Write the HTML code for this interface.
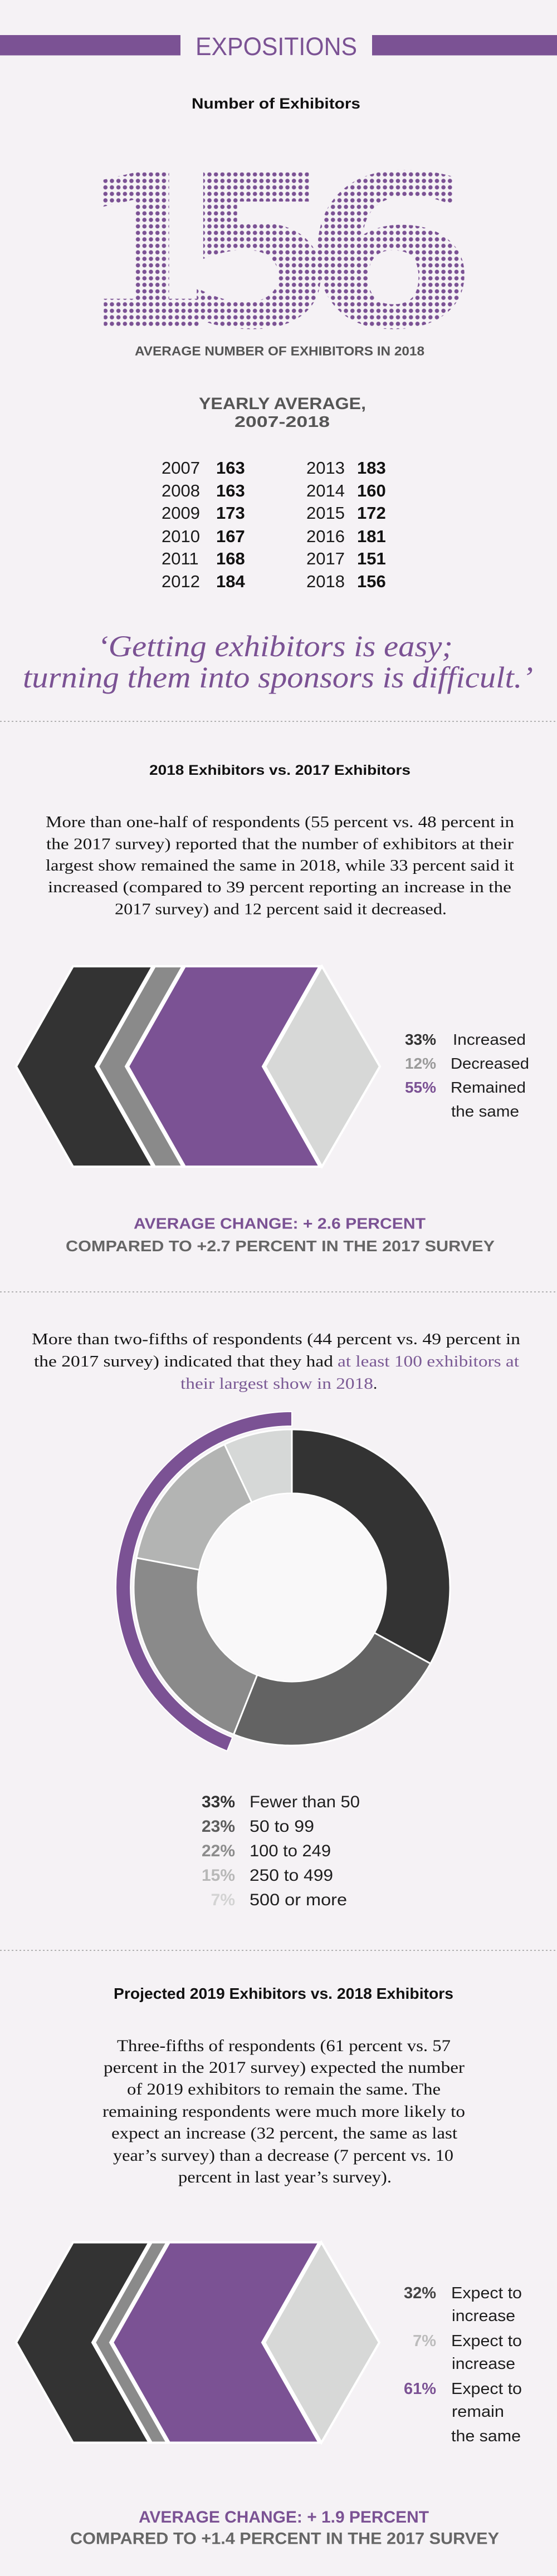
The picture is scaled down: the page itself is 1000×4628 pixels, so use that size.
<!DOCTYPE html>
<html><head><meta charset="utf-8"><style>
html,body{margin:0;padding:0;background:#f5f2f5;}
svg{display:block;}
.s{font-family:"Liberation Sans",sans-serif;}
.n{font-family:"Liberation Sans Narrow","Liberation Sans",sans-serif;}
.f{font-family:"Liberation Serif",serif;}
</style></head><body>
<svg width="1000" height="4628" viewBox="0 0 1000 4628" xmlns="http://www.w3.org/2000/svg">
<defs>
<pattern id="dots" patternUnits="userSpaceOnUse" x="183.47" y="307.47" width="11.67" height="11.67">
<circle cx="5.835" cy="5.835" r="3.8" fill="#7b5294"/>
</pattern>
<clipPath id="c156">
<text font-family="DejaVu Sans" font-weight="bold" font-size="379" text-anchor="middle" transform="translate(265,586) scale(0.9,1)">1</text>
<text font-family="DejaVu Sans" font-weight="bold" font-size="379" text-anchor="middle" transform="translate(463,586) scale(1.07,1)">5</text>
<text font-family="DejaVu Sans" font-weight="bold" font-size="379" text-anchor="middle" transform="translate(700,586) scale(1.2,1)">6</text>
</clipPath>
</defs>
<rect width="1000" height="4628" fill="#f5f2f5"/>

<!-- header -->
<rect x="0" y="63" width="324" height="36.5" fill="#7b5294"/>
<rect x="668" y="63" width="332" height="36.5" fill="#7b5294"/>
<text class="s" x="351" y="99" font-size="45" textLength="290" lengthAdjust="spacingAndGlyphs" fill="#7b5294">EXPOSITIONS</text>

<text class="n" x="344" y="195" font-size="27" font-weight="bold" textLength="303" lengthAdjust="spacingAndGlyphs" fill="#111">Number of Exhibitors</text>

<rect x="175" y="300" width="660" height="300" fill="url(#dots)" clip-path="url(#c156)"/>

<text class="n" x="242" y="638.5" font-size="23" font-weight="bold" textLength="520" lengthAdjust="spacingAndGlyphs" fill="#555">AVERAGE NUMBER OF EXHIBITORS IN 2018</text>

<text class="n" x="357" y="735" font-size="30" font-weight="bold" textLength="300" lengthAdjust="spacingAndGlyphs" fill="#555">YEARLY AVERAGE,</text>
<text class="n" x="421" y="767" font-size="28" font-weight="bold" textLength="171" lengthAdjust="spacingAndGlyphs" fill="#555">2007-2018</text>

<!-- table -->
<g class="s" font-size="31" fill="#1a1a1a">
<text x="290" y="851">2007</text><text x="290" y="892">2008</text><text x="290" y="932">2009</text>
<text x="290" y="974">2010</text><text x="290" y="1014">2011</text><text x="290" y="1055">2012</text>
<text x="550" y="851">2013</text><text x="550" y="892">2014</text><text x="550" y="932">2015</text>
<text x="550" y="974">2016</text><text x="550" y="1014">2017</text><text x="550" y="1055">2018</text>
</g>
<g class="s" font-size="31" font-weight="bold" fill="#111">
<text x="388" y="851">163</text><text x="388" y="892">163</text><text x="388" y="932">173</text>
<text x="388" y="974">167</text><text x="388" y="1014">168</text><text x="388" y="1055">184</text>
<text x="641" y="851">183</text><text x="641" y="892">160</text><text x="641" y="932">172</text>
<text x="641" y="974">181</text><text x="641" y="1014">151</text><text x="641" y="1055">156</text>
</g>

<!-- quote -->
<text class="f" x="175" y="1179" font-size="54" font-style="italic" textLength="638" lengthAdjust="spacingAndGlyphs" fill="#7b5294">‘Getting exhibitors is easy;</text>
<text class="f" x="41" y="1235" font-size="54" font-style="italic" textLength="916" lengthAdjust="spacingAndGlyphs" fill="#7b5294">turning them into sponsors is difficult.’</text>

<line x1="0" y1="1296" x2="1000" y2="1296" stroke="#9b9b9b" stroke-width="1.5" stroke-dasharray="3 4"/>

<!-- section 2 -->
<text class="n" x="268" y="1392" font-size="25" font-weight="bold" textLength="469" lengthAdjust="spacingAndGlyphs" fill="#111">2018 Exhibitors vs. 2017 Exhibitors</text>
<g class="f" font-size="29" fill="#151515">
<text x="82" y="1486" textLength="841" lengthAdjust="spacingAndGlyphs">More than one-half of respondents (55 percent vs. 48 percent in</text>
<text x="83" y="1525.5" textLength="839" lengthAdjust="spacingAndGlyphs">the 2017 survey) reported that the number of exhibitors at their</text>
<text x="82" y="1564" textLength="841" lengthAdjust="spacingAndGlyphs">largest show remained the same in 2018, while 33 percent said it</text>
<text x="86" y="1603" textLength="832" lengthAdjust="spacingAndGlyphs">increased (compared to 39 percent reporting an increase in the</text>
<text x="206" y="1642.5" textLength="596" lengthAdjust="spacingAndGlyphs">2017 survey) and 12 percent said it decreased.</text>
</g>

<!-- chevron 1 -->
<g stroke="#ffffff" stroke-width="4" stroke-linejoin="miter">
<polygon points="131,1736 274,1736 172,1916 274,2096 131,2096 29,1916" fill="#333333"/>
<polygon points="278,1736 328,1736 226,1916 328,2096 278,2096 176,1916" fill="#8a8a8a"/>
<polygon points="332,1736 574,1736 472,1916 574,2096 332,2096 230,1916" fill="#7b5294"/>
<polygon points="578,1736 682,1916 578,2096 476,1916" fill="#d7d8d7"/>
</g>
<g class="n" font-size="28" font-weight="bold" text-anchor="end">
<text x="783" y="1877" fill="#333">33%</text>
<text x="783" y="1920" fill="#9a9a9a">12%</text>
<text x="783" y="1963" fill="#7b5294">55%</text>
</g>
<g class="n" font-size="28" fill="#1e1e1e">
<text x="813" y="1877" textLength="131" lengthAdjust="spacingAndGlyphs">Increased</text>
<text x="809" y="1920" textLength="141" lengthAdjust="spacingAndGlyphs">Decreased</text>
<text x="809" y="1963" textLength="135" lengthAdjust="spacingAndGlyphs">Remained</text>
<text x="810" y="2006" textLength="122" lengthAdjust="spacingAndGlyphs">the same</text>
</g>

<text class="n" x="240" y="2207.6" font-size="28" font-weight="bold" textLength="524" lengthAdjust="spacingAndGlyphs" fill="#7b5294">AVERAGE CHANGE: + 2.6 PERCENT</text>
<text class="n" x="118" y="2248" font-size="28" font-weight="bold" textLength="770" lengthAdjust="spacingAndGlyphs" fill="#666">COMPARED TO +2.7 PERCENT IN THE 2017 SURVEY</text>

<line x1="0" y1="2321" x2="1000" y2="2321" stroke="#9b9b9b" stroke-width="1.5" stroke-dasharray="3 4"/>

<!-- section 3 -->
<g class="f" font-size="29">
<text x="57" y="2415" textLength="877" lengthAdjust="spacingAndGlyphs" fill="#151515">More than two-fifths of respondents (44 percent vs. 49 percent in</text>
<text x="61" y="2455" textLength="537" lengthAdjust="spacingAndGlyphs" fill="#151515">the 2017 survey) indicated that they had</text>
<text x="606" y="2455" textLength="326" lengthAdjust="spacingAndGlyphs" fill="#7b5a95">at least 100 exhibitors at</text>
<text x="324" y="2495" textLength="346" lengthAdjust="spacingAndGlyphs" fill="#7b5a95">their largest show in 2018</text>
<text x="670" y="2495" fill="#151515">.</text>
</g>

<!-- donut -->
<path d="M407.7 3145.8 A316 316 0 0 1 524 2536 L524 2562 A290 290 0 0 0 417.3 3121.6 Z" fill="#7b5294" stroke="#ffffff" stroke-width="2"/>
<g stroke="#ffffff" stroke-width="3" stroke-linejoin="round">
<path d="M524 2568 A284 284 0 0 1 772.9 2988.8 L672.1 2933.4 A169 169 0 0 0 524 2683 Z" fill="#333333"/>
<path d="M772.9 2988.8 A284 284 0 0 1 419.5 3116.1 L461.8 3009.1 A169 169 0 0 0 672.1 2933.4 Z" fill="#636363"/>
<path d="M419.5 3116.1 A284 284 0 0 1 245 2798.8 L358 2820.3 A169 169 0 0 0 461.8 3009.1 Z" fill="#8a8a8a"/>
<path d="M245 2798.8 A284 284 0 0 1 403.1 2595 L452 2699.1 A169 169 0 0 0 358 2820.3 Z" fill="#b3b4b3"/>
<path d="M403.1 2595 A284 284 0 0 1 524 2568 L524 2683 A169 169 0 0 0 452 2699.1 Z" fill="#d6d8d7"/>
</g>
<circle cx="524" cy="2852" r="167" fill="#f9f8f9"/>

<g class="s" font-size="30" font-weight="bold" text-anchor="end">
<text x="422" y="3247" fill="#333">33%</text>
<text x="422" y="3291" fill="#5c5c5c">23%</text>
<text x="422" y="3335" fill="#8c8c8c">22%</text>
<text x="422" y="3379" fill="#b8b8b8">15%</text>
<text x="422" y="3423" fill="#d3d3d3">7%</text>
</g>
<g class="s" font-size="30" fill="#1e1e1e">
<text x="448" y="3247" textLength="198" lengthAdjust="spacingAndGlyphs">Fewer than 50</text>
<text x="448" y="3291" textLength="116" lengthAdjust="spacingAndGlyphs">50 to 99</text>
<text x="448" y="3335" textLength="146" lengthAdjust="spacingAndGlyphs">100 to 249</text>
<text x="448" y="3379" textLength="150" lengthAdjust="spacingAndGlyphs">250 to 499</text>
<text x="448" y="3423" textLength="175" lengthAdjust="spacingAndGlyphs">500 or more</text>
</g>

<line x1="0" y1="3504" x2="1000" y2="3504" stroke="#9b9b9b" stroke-width="1.5" stroke-dasharray="3 4"/>

<!-- section 4 -->
<text class="s" x="204" y="3591" font-size="28" font-weight="bold" textLength="610" lengthAdjust="spacingAndGlyphs" fill="#111">Projected 2019 Exhibitors vs. 2018 Exhibitors</text>
<g class="f" font-size="30" fill="#151515">
<text x="210" y="3685" textLength="599" lengthAdjust="spacingAndGlyphs">Three-fifths of respondents (61 percent vs. 57</text>
<text x="186" y="3724" textLength="648" lengthAdjust="spacingAndGlyphs">percent in the 2017 survey) expected the number</text>
<text x="228" y="3763" textLength="563" lengthAdjust="spacingAndGlyphs">of 2019 exhibitors to remain the same. The</text>
<text x="184" y="3803" textLength="651" lengthAdjust="spacingAndGlyphs">remaining respondents were much more likely to</text>
<text x="200" y="3842" textLength="621" lengthAdjust="spacingAndGlyphs">expect an increase (32 percent, the same as last</text>
<text x="203" y="3882" textLength="611" lengthAdjust="spacingAndGlyphs">year’s survey) than a decrease (7 percent vs. 10</text>
<text x="320" y="3921" textLength="383" lengthAdjust="spacingAndGlyphs">percent in last year’s survey).</text>
</g>

<!-- chevron 2 -->
<g stroke="#ffffff" stroke-width="4" stroke-linejoin="miter">
<polygon points="131,4028.5 268,4028.5 166,4208.5 268,4388.5 131,4388.5 29,4208.5" fill="#333333"/>
<polygon points="272,4028.5 300,4028.5 198,4208.5 300,4388.5 272,4388.5 170,4208.5" fill="#8a8a8a"/>
<polygon points="304,4028.5 573,4028.5 471,4208.5 573,4388.5 304,4388.5 202,4208.5" fill="#7b5294"/>
<polygon points="577,4028.5 681,4208.5 577,4388.5 475,4208.5" fill="#d7d8d7"/>
</g>
<g class="s" font-size="29" font-weight="bold" text-anchor="end">
<text x="783" y="4129" fill="#444">32%</text>
<text x="783" y="4215" fill="#bcbcbc">7%</text>
<text x="783" y="4301" fill="#7b5294">61%</text>
</g>
<g class="s" font-size="29" fill="#1e1e1e">
<text x="810" y="4129" textLength="127" lengthAdjust="spacingAndGlyphs">Expect to</text>
<text x="811" y="4170" textLength="114" lengthAdjust="spacingAndGlyphs">increase</text>
<text x="810" y="4215" textLength="127" lengthAdjust="spacingAndGlyphs">Expect to</text>
<text x="811" y="4256" textLength="114" lengthAdjust="spacingAndGlyphs">increase</text>
<text x="810" y="4301" textLength="127" lengthAdjust="spacingAndGlyphs">Expect to</text>
<text x="811" y="4342" textLength="94" lengthAdjust="spacingAndGlyphs">remain</text>
<text x="810" y="4386" textLength="125" lengthAdjust="spacingAndGlyphs">the same</text>
</g>

<text class="s" x="249" y="4532" font-size="30" font-weight="bold" textLength="521" lengthAdjust="spacingAndGlyphs" fill="#7b5294">AVERAGE CHANGE: + 1.9 PERCENT</text>
<text class="s" x="126" y="4570.5" font-size="30" font-weight="bold" textLength="770" lengthAdjust="spacingAndGlyphs" fill="#666">COMPARED TO +1.4 PERCENT IN THE 2017 SURVEY</text>
</svg>
</body></html>
